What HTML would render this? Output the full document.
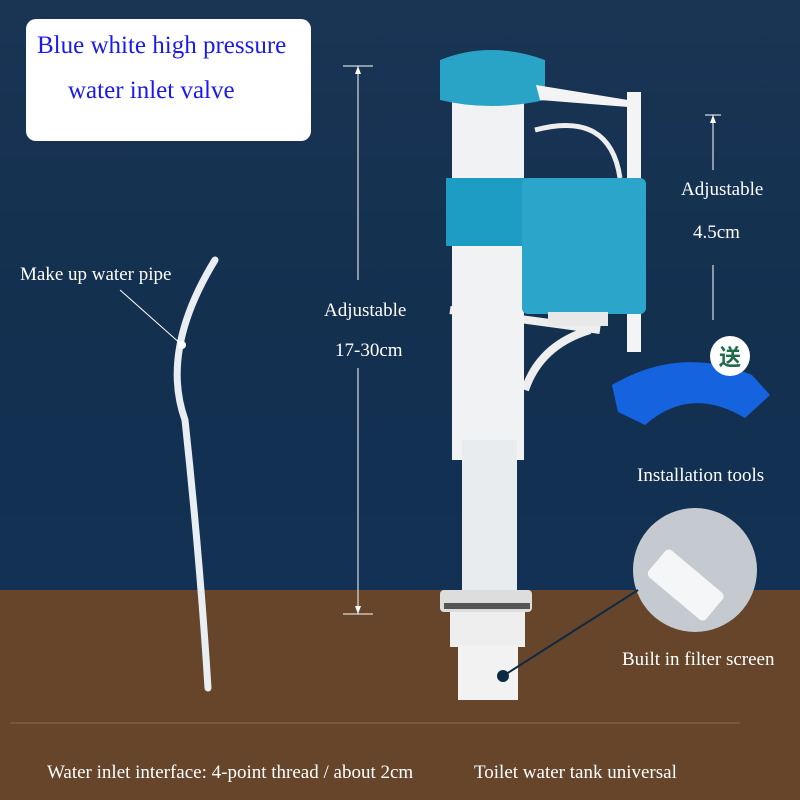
<!DOCTYPE html>
<html><head><style>
body{margin:0;width:800px;height:800px;overflow:hidden;font-family:"Liberation Serif",serif;}
.bg{position:absolute;left:0;top:0;width:800px;height:800px;background:linear-gradient(#1a3454,#13304f 40%,#123154 590px,#66452a 590px,#66452a);}
.t{position:absolute;color:#fff;font-size:19px;white-space:nowrap;}
</style></head><body>
<div class="bg"></div>
<div style="position:absolute;left:26px;top:19px;width:285px;height:122px;background:#fff;border-radius:10px"></div>
<div class="t" style="left:37px;top:32px;color:#1a1aee;font-size:25px">Blue white high pressure</div>
<div class="t" style="left:68px;top:77px;color:#1a1aee;font-size:25px">water inlet valve</div>
<svg width="800" height="800" style="position:absolute;left:0;top:0">
<line x1="10" y1="723" x2="740" y2="723" stroke="#8a6a4e" stroke-width="1"/>
<g stroke="#fff" stroke-width="1">
<line x1="343" y1="66" x2="373" y2="66"/><line x1="358" y1="66" x2="358" y2="280"/>
<line x1="358" y1="368" x2="358" y2="614"/><line x1="343" y1="614" x2="373" y2="614"/>
<line x1="705" y1="115" x2="721" y2="115"/><line x1="713" y1="115" x2="713" y2="170"/>
<line x1="713" y1="265" x2="713" y2="320"/>
</g>
<path d="M358 66 l-3 8 h6z M358 614 l-3 -8 h6z M713 115 l-3 8 h6z" fill="#fff"/>
<path d="M215 260 Q160 350 185 420 Q200 560 208 688" stroke="#e8eef2" stroke-width="7" fill="none" stroke-linecap="round"/>
<line x1="120" y1="290" x2="182" y2="345" stroke="#fff"/>
<circle cx="182" cy="345" r="4" fill="#fff"/>
<path d="M450 310 Q530 320 600 330" stroke="#eee" stroke-width="8" fill="none"/>
<path d="M525 390 Q540 345 590 330" stroke="#eee" stroke-width="8" fill="none"/>
<rect x="452" y="100" width="72" height="360" fill="#f0f2f4"/>
<rect x="462" y="440" width="55" height="160" fill="#e8ecef"/>
<rect x="440" y="590" width="92" height="22" rx="4" fill="#ddd"/>
<rect x="444" y="603" width="86" height="6" fill="#555"/>
<rect x="450" y="612" width="75" height="35" fill="#eee"/>
<rect x="458" y="645" width="60" height="55" fill="#f2f2f2"/>
<path d="M440 60 Q490 40 545 60 L545 100 Q490 112 440 100Z" fill="#2aa4c6"/>
<path d="M536 85 L628 100 L640 108 L540 100Z" fill="#f4f4f4"/>
<rect x="627" y="92" width="14" height="260" fill="#f4f4f4"/>
<path d="M535 130 Q610 110 620 178" stroke="#eee" stroke-width="5" fill="none"/>
<rect x="446" y="178" width="80" height="68" fill="#1d9cc4"/>
<rect x="522" y="178" width="124" height="136" rx="6" fill="#2ba6ca"/>
<rect x="548" y="312" width="60" height="14" fill="#e8e8e8"/>
<path d="M612 385 Q680 345 752 375 L770 395 L745 418 Q690 385 645 425 L618 412Z" fill="#1663e0"/>
<circle cx="730" cy="356" r="20" fill="#fff"/>
<text x="730" y="365" font-size="22" text-anchor="middle" font-family="Noto Sans CJK SC,sans-serif" font-weight="bold" fill="#1d6d4a">送</text>
<circle cx="695" cy="570" r="62" fill="#c5cad0"/>
<rect x="660" y="535" width="35" height="75" rx="5" fill="#f4f6f8" transform="rotate(-50 695 570)"/>
<line x1="638" y1="590" x2="503" y2="676" stroke="#0d2a45" stroke-width="2"/>
<circle cx="503" cy="676" r="6" fill="#0d2a45"/>
</svg>
<div class="t" style="left:20px;top:264px">Make up water pipe</div>
<div class="t" style="left:324px;top:300px">Adjustable</div>
<div class="t" style="left:335px;top:340px">17-30cm</div>
<div class="t" style="left:681px;top:179px">Adjustable</div>
<div class="t" style="left:693px;top:222px">4.5cm</div>
<div class="t" style="left:637px;top:465px">Installation tools</div>
<div class="t" style="left:622px;top:649px">Built in filter screen</div>
<div class="t" style="left:47px;top:762px">Water inlet interface: 4-point thread / about 2cm</div>
<div class="t" style="left:474px;top:762px">Toilet water tank universal</div>
</body></html>
